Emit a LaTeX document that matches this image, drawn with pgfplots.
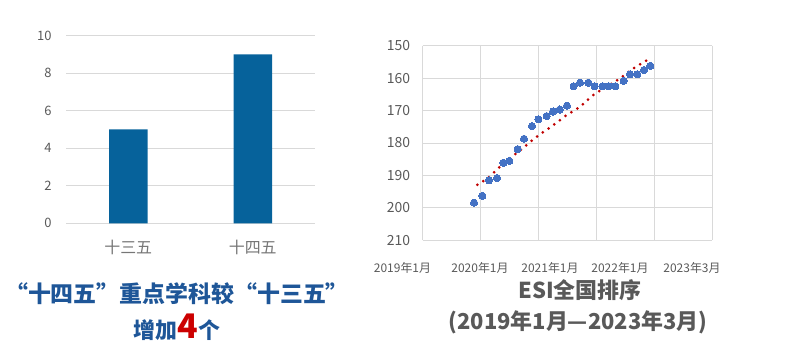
\documentclass[border=0pt]{standalone}
\usepackage{fontspec}
\setmainfont{Noto Sans CJK SC}
\usepackage{pgfplots}
\pgfplotsset{compat=1.18}
\definecolor{barblue}{RGB}{6,98,155}
\definecolor{titleblue}{RGB}{30,86,152}
\definecolor{dotblue}{RGB}{68,114,196}
\definecolor{trendred}{RGB}{192,0,0}
\definecolor{fourred}{RGB}{204,0,0}
\definecolor{txtgray}{RGB}{89,89,89}
\definecolor{catgray}{RGB}{118,118,118}
\definecolor{gridgray}{RGB}{217,217,217}
\begin{document}
\begin{tikzpicture}
\useasboundingbox (0,0) rectangle (798bp,361bp);
% ---------- left bar chart ----------
\begin{axis}[
  at={(190.5bp,231.5bp)}, anchor=center,
  scale only axis, width=249bp, height=187.6bp,
  xmin=-0.5, xmax=1.5, ymin=0, ymax=10,
  xtick={0,1}, xticklabels={十三五,十四五},
  ytick={0,2,4,6,8,10},
  ymajorgrids, xmajorgrids=false,
  major grid style={draw=gridgray, line width=0.75bp},
  axis line style={draw=none}, tick style={draw=none},
  /pgf/number format/assume math mode=true,
  yticklabel style={font=\fontsize{13}{13}\selectfont, text=txtgray, xshift=-11bp},
  xticklabel style={font=\fontsize{16}{16}\selectfont, text=catgray, yshift=-9bp},
  ybar, bar width=38.5bp,
]
\addplot[fill=barblue, draw=none] coordinates {(0,5) (1,9)};
\end{axis}
% ---------- right scatter chart ----------
\begin{axis}[
  at={(567.5bp,218bp)}, anchor=center,
  scale only axis, width=289.6bp, height=194.6bp,
  xmin=0, xmax=5, ymin=150, ymax=210, y dir=reverse,
  xtick={0,1,2,3,4,5}, xticklabels={},
  ytick={150,160,170,180,190,200,210},
  grid=major,
  major grid style={draw=gridgray, line width=0.75bp},
  axis line style={draw=none}, tick style={draw=none},
  /pgf/number format/assume math mode=true,
  /pgf/number format/1000 sep={},
  yticklabel style={font=\fontsize{14}{14}\selectfont, text=txtgray, xshift=-9bp},
  clip=false,
]
\addplot[dotblue, only marks, mark=*, mark size=3.6bp, mark options={fill=dotblue, draw=dotblue, line width=0pt}] table {
x y
0.886 198.4
1.030 196.3
1.145 191.5
1.283 190.8
1.392 186.1
1.496 185.5
1.640 181.9
1.749 178.7
1.887 174.8
1.997 172.7
2.140 171.7
2.250 170.3
2.365 169.7
2.491 168.5
2.606 162.5
2.716 161.4
2.860 161.4
2.969 162.5
3.107 162.5
3.211 162.5
3.326 162.5
3.469 160.8
3.579 158.8
3.705 158.8
3.820 157.5
3.930 156.2
};
\addplot[trendred, line width=3bp, line cap=round, dash pattern=on 0pt off 7bp, smooth] coordinates {
(0.944,192.9) (1.151,190.4) (1.392,186.3) (1.651,182.7) (1.910,178.9) (2.025,177.3)
(2.255,174.5) (2.486,171.4) (2.716,168.8) (2.946,165.2) (3.176,162.6) (3.406,160.1)
(3.636,157.0) (3.930,153.9)
};
\end{axis}
% x labels of right chart
\begin{scope}[every node/.style={font=\fontsize{12}{12}\selectfont, text=txtgray}]
\node at (402.5bp,93bp) {2019年1月};
\node at (480bp,93bp) {2020年1月};
\node at (550bp,93bp) {2021年1月};
\node at (620bp,93bp) {2022年1月};
\node at (692bp,93bp) {2023年3月};
\end{scope}
% titles
\node[anchor=base, text=titleblue, font=\bfseries\fontsize{23}{23}\selectfont] at (177bp,58bp) {“十四五”重点学科较“十三五”};
\node[anchor=base, text=titleblue, font=\bfseries\fontsize{22}{22}\selectfont] at (177bp,23bp) {增加{\color{fourred}\fontsize{34}{34}\selectfont 4}个};
\node[anchor=base, text=txtgray, font=\bfseries\fontsize{22}{22}\selectfont] at (580bp,62bp) {ESI全国排序};
\node[anchor=base, text=txtgray, font=\bfseries\fontsize{22}{22}\selectfont] at (578bp,31.5bp) {(2019年1月—2023年3月)};
\end{tikzpicture}
\end{document}
